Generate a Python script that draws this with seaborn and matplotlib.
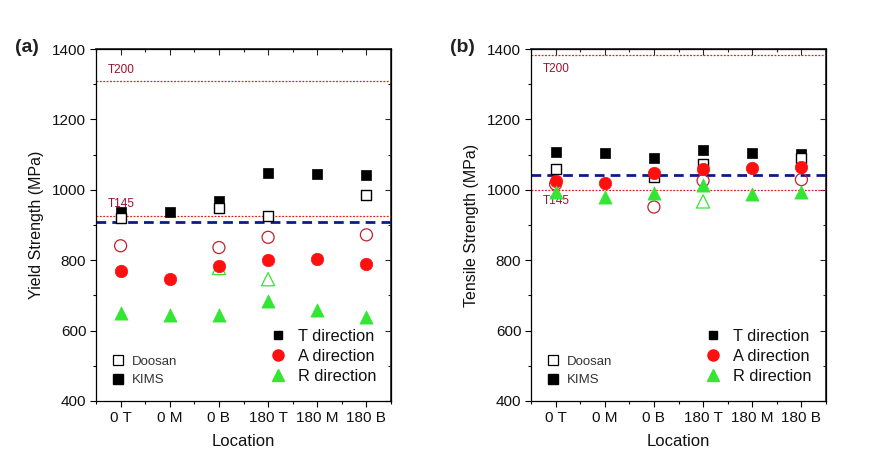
import numpy as np
import pandas as pd
import matplotlib
matplotlib.use("Agg")
import matplotlib.pyplot as plt
from matplotlib.lines import Line2D
from matplotlib.ticker import MultipleLocator, FixedLocator
import seaborn as sns

nan = np.nan
locations = ["0 T", "0 M", "0 B", "180 T", "180 M", "180 B"]

# Yield strength (MPa)
ys_kims_T = [937, 937, 967, 1048, 1045, 1043]
ys_kims_A = [768, 747, 783, 800, 803, 790]
ys_kims_R = [651, 643, 645, 683, 659, 638]
ys_doosan_T = [921, nan, 949, 925, nan, 984]
ys_doosan_A = [841, nan, 836, 865, nan, 872]
ys_doosan_R = [nan, nan, 778, 746, nan, nan]
ys_T145, ys_T200, ys_ref = 925, 1308, 908

# Tensile strength (MPa)
ts_kims_T = [1107, 1104, 1090, 1114, 1105, 1103]
ts_kims_A = [1026, 1018, 1048, 1059, 1063, 1066]
ts_kims_R = [994, 980, 991, 1015, 988, 994]
ts_doosan_T = [1060, nan, 1036, 1072, nan, 1090]
ts_doosan_A = [1016, nan, 951, 1026, nan, 1029]
ts_doosan_R = [nan, nan, nan, 967, nan, nan]
ts_T145, ts_T200, ts_ref = 999, 1383, 1043

sns.set_theme(style="ticks")
plt.rcParams["font.family"] = ["Liberation Sans", "DejaVu Sans"]

RED = "#ff1010"
GREEN = "#33e633"
DARKRED = "#c02030"
NAVY = "#101890"
LABEL_RED = "#a01030"

fig = plt.figure(figsize=(8.73, 4.76), dpi=100)
ax_a = fig.add_axes([96/873, 75/476, 295/873, 352/476])
ax_b = fig.add_axes([531/873, 75/476, 295/873, 352/476])


def draw(ax, kT, kA, kR, dT, dA, dR, t145, t200, ref, ylabel, panel, t200_above, t145_above):
    ax.axhline(t200, color="#e02020", lw=0.9, ls=(0, (1.5, 1.2)), zorder=1)
    ax.axhline(t145, color="#e02020", lw=0.9, ls=(0, (1.5, 1.2)), zorder=1)
    ax.axhline(ref, color=NAVY, lw=2.0, ls=(0, (3.5, 2.2)), zorder=1)

    sns.scatterplot(x=locations, y=kT, marker="s", s=62, color="black",
                    edgecolor="black", linewidth=0.5, ax=ax, zorder=3)
    sns.scatterplot(x=locations, y=dT, marker="s", s=58, color="white",
                    edgecolor="black", linewidth=1.0, ax=ax, zorder=4)
    sns.scatterplot(x=locations, y=dA, marker="o", s=75, color="none",
                    edgecolor=DARKRED, linewidth=0.9, ax=ax, zorder=4)
    sns.scatterplot(x=locations, y=kA, marker="o", s=80, color=RED,
                    edgecolor=RED, linewidth=0.5, ax=ax, zorder=5)
    sns.scatterplot(x=locations, y=dR, marker="^", s=90, color="none",
                    edgecolor=GREEN, linewidth=0.9, ax=ax, zorder=4)
    sns.scatterplot(x=locations, y=kR, marker="^", s=90, color=GREEN,
                    edgecolor=GREEN, linewidth=0.5, ax=ax, zorder=6)

    ax.set_xlim(-0.5, 5.5)
    ax.set_ylim(400, 1400)
    ax.yaxis.set_major_locator(MultipleLocator(200))
    ax.yaxis.set_minor_locator(MultipleLocator(100))
    ax.xaxis.set_minor_locator(FixedLocator(np.arange(-0.5, 6.0, 1.0)))
    ax.tick_params(axis="both", which="major", direction="out", length=4,
                   width=0.8, color="black", labelsize=11, labelcolor="#111111", pad=3)
    ax.tick_params(axis="both", which="minor", direction="out", length=2.5,
                   width=0.8, color="black")
    for sp in ax.spines.values():
        sp.set_visible(True)
        sp.set_color("black")
        sp.set_linewidth(0.9)

    # inward ticks on top and right
    top = ax.secondary_xaxis("top")
    top.set_xticks(range(len(locations)))
    top.xaxis.set_minor_locator(FixedLocator(np.arange(-0.5, 6.0, 1.0)))
    top.tick_params(which="major", direction="in", length=4, width=0.8, labeltop=False)
    top.tick_params(which="minor", direction="in", length=2.5, width=0.8)
    right = ax.secondary_yaxis("right")
    right.yaxis.set_major_locator(MultipleLocator(200))
    right.yaxis.set_minor_locator(MultipleLocator(100))
    right.tick_params(which="major", direction="in", length=4, width=0.8, labelright=False)
    right.tick_params(which="minor", direction="in", length=2.5, width=0.8)

    ax.set_xlabel("Location", fontsize=12, color="#111111", labelpad=7)
    ax.set_ylabel(ylabel, fontsize=11.5, color="#111111", labelpad=6)

    tr = ax.get_yaxis_transform()
    if t200_above:
        ax.text(0.04, t200 + 15, "T200", color=LABEL_RED, fontsize=8.5,
                transform=tr, va="bottom", ha="left")
    else:
        ax.text(0.04, t200 - 22, "T200", color=LABEL_RED, fontsize=8.5,
                transform=tr, va="top", ha="left")
    if t145_above:
        ax.text(0.04, t145 + 18, "T145", color=LABEL_RED, fontsize=8.5,
                transform=tr, va="bottom", ha="left")
    else:
        ax.text(0.04, t145 - 13, "T145", color=LABEL_RED, fontsize=8.5,
                transform=tr, va="top", ha="left")

    ax.text(-0.275, 1.005, panel, transform=ax.transAxes, fontsize=14,
            fontweight="bold", color="#222222", ha="left", va="center")

    h_dir = [
        Line2D([], [], marker="s", ls="none", color="black", markersize=5.5),
        Line2D([], [], marker="o", ls="none", color=RED, markersize=8),
        Line2D([], [], marker="^", ls="none", color=GREEN, markersize=9),
    ]
    leg1 = ax.legend(h_dir, ["T direction", "A direction", "R direction"],
                     loc="lower left", bbox_to_anchor=(0.55, 0.017), frameon=False,
                     fontsize=11.8, handlelength=1.0, handletextpad=0.7,
                     labelspacing=0.3, borderpad=0.2, labelcolor="#111111")
    ax.add_artist(leg1)
    h_src = [
        Line2D([], [], marker="s", ls="none", markerfacecolor="white",
               markeredgecolor="black", markeredgewidth=0.9, markersize=6.5),
        Line2D([], [], marker="s", ls="none", color="black", markersize=6.5),
    ]
    ax.legend(h_src, ["Doosan", "KIMS"], loc="lower left",
              bbox_to_anchor=(0.02, 0.015), frameon=False, fontsize=9.5,
              handlelength=1.0, handletextpad=0.6, labelspacing=0.5,
              borderpad=0.2, labelcolor="#333333")


draw(ax_a, ys_kims_T, ys_kims_A, ys_kims_R, ys_doosan_T, ys_doosan_A, ys_doosan_R,
     ys_T145, ys_T200, ys_ref, "Yield Strength (MPa)", "(a)", True, True)
draw(ax_b, ts_kims_T, ts_kims_A, ts_kims_R, ts_doosan_T, ts_doosan_A, ts_doosan_R,
     ts_T145, ts_T200, ts_ref, "Tensile Strength (MPa)", "(b)", False, False)

fig.savefig("out.png", dpi=100)
